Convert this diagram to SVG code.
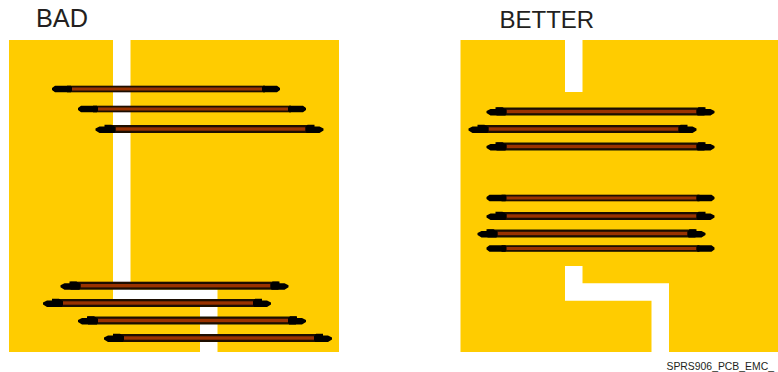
<svg xmlns="http://www.w3.org/2000/svg" width="778" height="372" viewBox="0 0 778 372">
<style>
.cu{fill:#ffcc00}
.slot{fill:#fff}
.lbl{font-family:"Liberation Sans",Arial,sans-serif;font-size:24px;fill:#231f20}
.ref{font-family:"Liberation Sans",Arial,sans-serif;font-size:10.4px;fill:#231f20}
.edge{fill:#1a1005}
.core{fill:#993300}
.pad{fill:#000}
.trace{filter:url(#soft)}
</style>
<defs>
<filter id="soft" x="-5%" y="-100%" width="110%" height="300%"><feGaussianBlur stdDeviation="0.3"/></filter>
<g id="flat">
<rect class="edge" x="14" y="-3.300" width="198" height="6.600"/>
<rect class="core" x="18" y="-1.500" width="191" height="3"/>
<path class="pad" d="M-1 0V-1L2-3.300H18L19-1.500V1.500L18 3.300H2L-1 1ZM227 0V-1L224-3.300H210L209-1.500V1.500L210 3.300H224L227 1Z"/>
</g>
<g id="bump">
<rect class="edge" x="9" y="-4" width="208" height="8"/>
<rect class="core" x="19" y="-1.700" width="190" height="3.400"/>
<path class="pad" d="M-1 0.500V-0.500L3-2.500H8V-4.300H15L19-1.700V1.700L18 4H3L-1 1.500ZM227 0.500V-0.500L223-2.500H218V-4.300H211L209-1.700V1.700L210 4H223L227 1.500Z"/>
</g>
</defs>
<g id="bad-panel">
<text class="lbl" x="36" y="27" style="font-size:25.300px">BAD</text>
<rect class="cu" x="9" y="40" width="330" height="312"/>
<path class="slot" d="M113 40H130.500V289.500H217.500V352H200V299.500H113Z"/>
</g>
<g id="better-panel">
<text class="lbl" x="499.500" y="28">BETTER</text>
<rect class="cu" x="460.500" y="40" width="317.500" height="312"/>
<rect class="slot" x="565" y="40" width="17.500" height="52"/>
<path class="slot" d="M565 266H582.500V283.300H669V352H651.500V300.800H565Z"/>
<text class="ref" x="666.500" y="370">SPRS906_PCB_EMC_</text>
</g>
<g id="bad-traces" class="trace">
<use href="#flat" x="53" y="89"/>
<use href="#flat" x="79" y="109"/>
<use href="#bump" x="96.500" y="129"/>
<use href="#bump" x="61.500" y="285.700"/>
<use href="#bump" x="44" y="303"/>
<use href="#bump" x="79" y="320.500"/>
<use href="#bump" x="105" y="338"/>
</g>
<g id="better-traces" class="trace">
<use href="#bump" x="487.500" y="111.500"/>
<use href="#bump" x="469.500" y="129"/>
<use href="#bump" x="487.500" y="146.500"/>
<use href="#flat" x="487.500" y="198"/>
<use href="#bump" x="487.500" y="216"/>
<use href="#bump" x="478.500" y="233.500"/>
<use href="#flat" x="487.500" y="248.500"/>
</g>
</svg>
